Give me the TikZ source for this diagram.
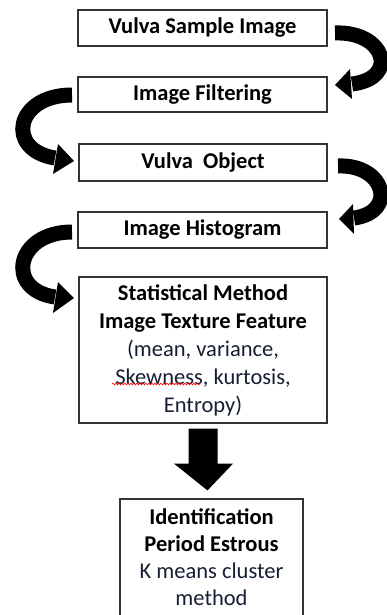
\documentclass[tikz,border=0pt]{standalone}
\usepackage{fontspec}
\setmainfont{Carlito}
\usetikzlibrary{decorations.pathmorphing}
\definecolor{txtblue}{RGB}{22,32,50}
\tikzset{
  box/.style={draw=black!80, line width=1.2pt, fill=white, align=center, inner sep=0pt,
    font=\fontsize{22.5}{28}\selectfont},
  curvy/.style={line width=15pt, line cap=butt, black},
  headfill/.style={fill=black},
}
\begin{document}
\begin{tikzpicture}[x=1pt,y=-1pt]
\useasboundingbox (0,0) rectangle (387,615);
\clip (0,0) rectangle (387,615);
\fill[white] (0,0) rectangle (387,615);

\node[box, minimum width=249pt, minimum height=36pt] (b1) at (202.5,28) {\bfseries Vulva Sample Image};
\node[box, minimum width=249pt, minimum height=35pt] (b2) at (202.5,94.5) {\bfseries Image Filtering};
\node[box, minimum width=248pt, minimum height=37pt] (b3) at (203,162.5) {\bfseries Vulva\ \ Object};
\node[box, minimum width=249pt, minimum height=36pt] (b4) at (202.5,230) {\bfseries Image Histogram};
\node[box, minimum width=248pt, minimum height=146pt] (b5) at (203,350) {\bfseries Statistical Method\\\bfseries Image Texture Feature\\\color{txtblue}(mean, variance,\\\color{txtblue}Skewness, kurtosis,\\\color{txtblue}Entropy)};
\node[box, minimum width=183pt, minimum height=131pt] (b6) at (211.5,564.5) {};
\node[font=\fontsize{22.5}{27}\selectfont, align=center, inner sep=0pt] (t6) at (211.5,557.5)
  {\bfseries Identification\\\bfseries Period Estrous\\\color{txtblue}K means cluster\\\color{txtblue}method};

% red spelling underline
\coordinate (u1) at (112,384);
\coordinate (u2) at (200,384);
\draw[red, line width=0.6pt, decorate, decoration={snake, amplitude=0.9pt, segment length=3pt}] (u1) -- (u2);

% arrow 1: b1 -> b2
\coordinate (a1s) at (335,33);
\coordinate (a1e) at (352,84);
\draw[curvy] (a1s) .. controls (385,31) and (400,78) .. (a1e);
\fill[headfill] (350,69) -- (335,85) -- (352,99) -- cycle;

% arrow 2: b2 -> b3
\coordinate (a2s) at (72,95);
\coordinate (a2e) at (55,158);
\draw[curvy] (a2s) .. controls (15,95) and (5,150) .. (a2e);
\fill[headfill] (58,144) -- (74,161) -- (53,174) -- cycle;

% arrow 3: b3 -> b4
\coordinate (a3s) at (338,166);
\coordinate (a3e) at (354,218);
\draw[curvy] (a3s) .. controls (385,164) and (398,212) .. (a3e);
\fill[headfill] (353,204) -- (339,219) -- (354,234) -- cycle;

% arrow 4: b4 -> b5
\coordinate (a4s) at (72,232);
\coordinate (a4e) at (55,297);
\draw[curvy] (a4s) .. controls (15,232) and (5,290) .. (a4e);
\fill[headfill] (58,282) -- (74,298) -- (53,313) -- cycle;

% down arrow b5 -> b6
\fill[black] ([xshift=-14.5pt,yshift=-5pt]b5.south) -- ([xshift=14.5pt,yshift=-5pt]b5.south)
  -- ([xshift=14.5pt,yshift=-40pt]b5.south) -- ([xshift=30pt,yshift=-40pt]b5.south)
  -- ([xshift=-4pt,yshift=8pt]b6.north) -- ([xshift=-29pt,yshift=-40pt]b5.south)
  -- ([xshift=-14.5pt,yshift=-40pt]b5.south) -- cycle;
\end{tikzpicture}
\end{document}
